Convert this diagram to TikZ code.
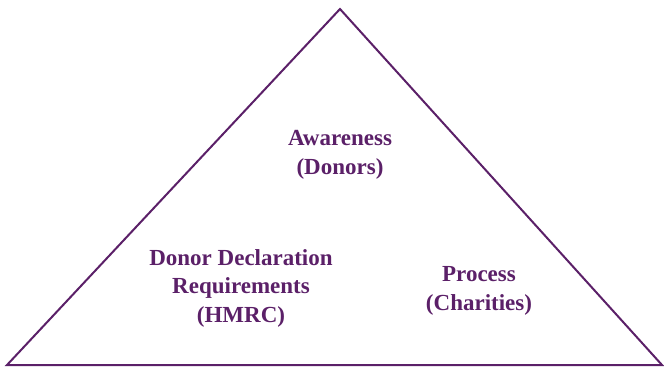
\documentclass[tikz,border=0pt]{standalone}
\usepackage{fontspec}
\setmainfont{Liberation Serif}
\definecolor{plum}{HTML}{5B2068}
\tikzset{
  edge/.style={draw=plum, line width=2pt, line join=miter},
  label/.style={text=plum, font=\bfseries\fontsize{23}{28.5}\selectfont, align=center, inner sep=0pt}
}
\begin{document}
\begin{tikzpicture}[x=1pt,y=-1pt]
        \useasboundingbox (0,0) rectangle (664,368);
        \coordinate (top) at (340,9);
        \coordinate (left) at (7,365);
        \coordinate (right) at (662,365);
        \draw [edge] (top) -- (left) -- (right) -- cycle;
        \node [label] (aware) at (340,155) {Awareness\\(Donors)};
        \node [label] (donor) at (241,288) {Donor Declaration\\Requirements\\(HMRC)};
        \node [label] (process) at (479,291) {Process\\(Charities)};
\end{tikzpicture}
\end{document}
